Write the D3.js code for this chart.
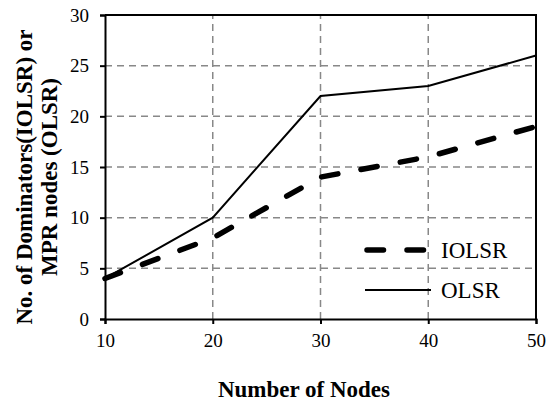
<!DOCTYPE html>
<html>
<head>
<meta charset="utf-8">
<script src="https://cdn.jsdelivr.net/npm/d3@7"></script>
<style>
  body { margin: 0; background: #fff; }
  svg text { font-family: "Liberation Serif", "Times New Roman", serif; fill: #000; }
</style>
</head>
<body>
<div id="chart"></div>
<script>
const nodes = [10, 20, 30, 40, 50];
const iolsr = [4, 8, 14, 16, 19];
const olsr = [4, 10, 22, 23, 26];
const yTicks = [0, 5, 10, 15, 20, 25, 30];
const seriesNames = ['IOLSR', 'OLSR'];

const width = 550;
const height = 405;
const margin = { left: 105, right: 14, top: 15, bottom: 86 };

const svg = d3.select('#chart').append('svg')
  .attr('width', width)
  .attr('height', height);

const x = d3.scaleLinear().domain([10, 50]).range([margin.left, width - margin.right]);
const y = d3.scaleLinear().domain([0, 30]).range([height - margin.bottom, margin.top]);

// grid
svg.append('g').selectAll('line')
  .data(yTicks.slice(1, -1))
  .join('line')
  .attr('x1', x(10)).attr('x2', x(50))
  .attr('y1', (d) => y(d)).attr('y2', (d) => y(d))
  .attr('stroke', '#888').attr('stroke-width', 1.5)
  .attr('stroke-dasharray', '7,5');

svg.append('g').selectAll('line')
  .data(nodes.slice(1, -1))
  .join('line')
  .attr('x1', (d) => x(d)).attr('x2', (d) => x(d))
  .attr('y1', y(0)).attr('y2', y(30))
  .attr('stroke', '#888').attr('stroke-width', 1.5)
  .attr('stroke-dasharray', '7,5');

// axes
const yAxis = svg.append('g')
  .attr('transform', `translate(${x(10)},0)`)
  .call(d3.axisLeft(y).tickValues(yTicks).tickSize(5).tickPadding(11));
const xAxis = svg.append('g')
  .attr('transform', `translate(0,${y(0)})`)
  .call(d3.axisBottom(x).tickValues(nodes).tickSize(5).tickPadding(10));

[yAxis, xAxis].forEach((a) => {
  a.attr('font-family', 'Liberation Serif').attr('font-size', 19);
  a.select('.domain').attr('stroke', '#000').attr('stroke-width', 2);
  a.selectAll('.tick line').attr('stroke', '#000').attr('stroke-width', 2);
  a.selectAll('.tick text')
    .attr('font-family', 'Liberation Serif')
    .attr('font-size', 19)
    .style('font-size', '19px')
    .attr('fill', '#000');
});

// box top and right
svg.append('path')
  .attr('d', `M${x(10)},${y(30)}H${x(50)}V${y(0)}`)
  .attr('fill', 'none').attr('stroke', '#000').attr('stroke-width', 2);

// lines
const line = d3.line().x((d, i) => x(nodes[i])).y((d) => y(d));

svg.append('path')
  .datum(olsr)
  .attr('d', line)
  .attr('fill', 'none').attr('stroke', '#000').attr('stroke-width', 2);

svg.append('path')
  .datum(iolsr)
  .attr('d', line)
  .attr('fill', 'none').attr('stroke', '#000').attr('stroke-width', 5.5)
  .attr('stroke-linecap', 'round')
  .attr('stroke-dasharray', '16.5,23.5');

// legend
const legend = svg.append('g');
legend.append('line')
  .attr('x1', 367).attr('x2', 425).attr('y1', 250).attr('y2', 250)
  .attr('stroke', '#000').attr('stroke-width', 5.5)
  .attr('stroke-linecap', 'round')
  .attr('stroke-dasharray', '16.5,23.5');
legend.append('line')
  .attr('x1', 365).attr('x2', 431).attr('y1', 290).attr('y2', 290)
  .attr('stroke', '#000').attr('stroke-width', 2);
legend.selectAll('text')
  .data(seriesNames)
  .join('text')
  .attr('x', 441)
  .attr('y', (d, i) => 258 + i * 40)
  .style('font-size', '23px')
  .text((d) => d);

// axis titles
svg.append('text')
  .attr('x', 304).attr('y', 397)
  .attr('text-anchor', 'middle')
  .style('font-size', '23px').style('font-weight', 'bold')
  .text('Number of Nodes');

const yTitle = svg.append('text')
  .attr('transform', 'translate(32,177) rotate(-90)')
  .attr('text-anchor', 'middle')
  .style('font-size', '23px').style('font-weight', 'bold');
yTitle.append('tspan').attr('x', 0).attr('y', 0).text('No. of Dominators(IOLSR) or');
yTitle.append('tspan').attr('x', 0).attr('y', 25).text('MPR nodes (OLSR)');
</script>
</body>
</html>
